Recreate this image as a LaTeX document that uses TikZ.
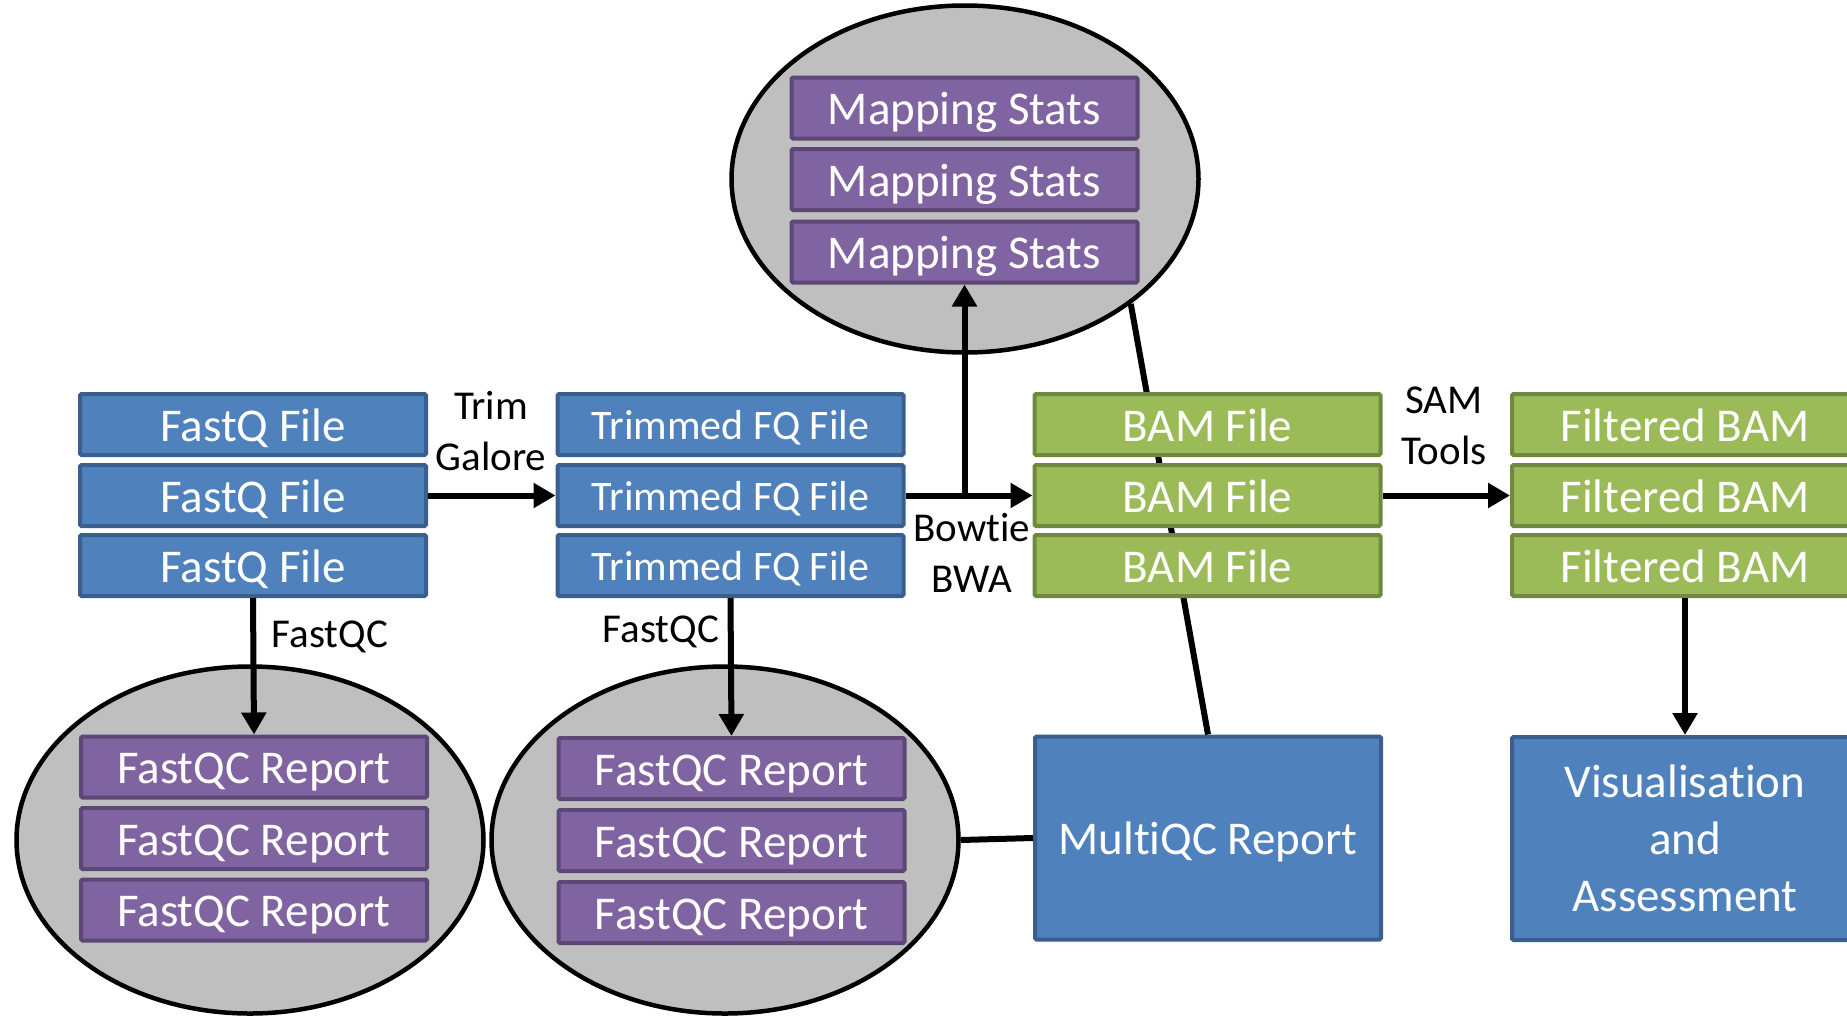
\documentclass[tikz,border=0pt]{standalone}
\usepackage{fontspec}
\setmainfont{Carlito}[Ligatures=NoCommon]
\usetikzlibrary{shapes.geometric,arrows.meta}
\definecolor{bfill}{HTML}{4F81BD}
\definecolor{bdraw}{HTML}{3A5F8E}
\definecolor{gfill}{HTML}{9BBB59}
\definecolor{gdraw}{HTML}{71893F}
\definecolor{pfill}{HTML}{8064A2}
\definecolor{pdraw}{HTML}{5C4776}
\definecolor{efill}{HTML}{BFBFBF}
\begin{document}
\begin{tikzpicture}[x=1pt,y=-1pt,
  basebox/.style={draw, line width=4pt, rounded corners=1.5pt, minimum width=346pt, minimum height=61pt,
    inner sep=0pt, text=white, font=\fontsize{47}{57}\selectfont},
  box/.style={basebox, text height=40pt, text depth=7pt},
  bluebox/.style={box, fill=bfill, draw=bdraw},
  greenbox/.style={box, fill=gfill, draw=gdraw},
  purplebox/.style={box, fill=pfill, draw=pdraw},
  trimbox/.style={bluebox, font=\fontsize{42}{50}\selectfont, text height=36pt, text depth=7pt},
  bigbox/.style={basebox, fill=bfill, draw=bdraw, minimum height=203pt, align=center},
  oval/.style={ellipse, draw=black, line width=4.5pt, fill=efill, minimum width=467pt, minimum height=347pt, inner sep=0pt},
  conn/.style={line width=6pt, draw=black},
  arr/.style={conn, -{Triangle[length=22pt,width=24pt]}},
  lbl/.style={align=center, font=\fontsize{41}{51}\selectfont, inner sep=0pt}
]
\useasboundingbox (0,0) rectangle (1847,1015);

% grey ellipses
\node[oval] (mapE) at (965,179) {};
\node[oval] (leftE) at (250,840) {};
\node[oval] (midE) at (725,840) {};

% big boxes
\node[bigbox, text height=40pt, text depth=7pt] (mqc) at (1208,838) {MultiQC Report};
\node[bigbox] (vis) at (1685,838.5) {Visualisation\\and\\Assessment};

% connectors lying behind boxes
\draw[conn] (mapE.-37) -- (mqc.north);
\draw[conn] (midE.east) -- (mqc.west);

% FastQ files
\node[bluebox] (f1) at (253,424.5) {FastQ File};
\node[bluebox] (f2) at (253,495.5) {FastQ File};
\node[bluebox] (f3) at (253,565.5) {FastQ File};

% Trimmed
\node[trimbox] (t1) at (730.5,424.5) {Trimmed FQ File};
\node[trimbox] (t2) at (730.5,495.5) {Trimmed FQ File};
\node[trimbox] (t3) at (730.5,565.5) {Trimmed FQ File};

% BAM
\node[greenbox] (b1) at (1207.5,424.5) {BAM File};
\node[greenbox] (b2) at (1207.5,495.5) {BAM File};
\node[greenbox] (b3) at (1207.5,565.5) {BAM File};

% Filtered BAM
\node[greenbox] (fb1) at (1685,424.5) {Filtered BAM};
\node[greenbox] (fb2) at (1685,495.5) {Filtered BAM};
\node[greenbox] (fb3) at (1685,565.5) {Filtered BAM};

% Mapping stats
\node[purplebox] (ms1) at (964.5,108) {Mapping Stats};
\node[purplebox] (ms2) at (964.5,179.5) {Mapping Stats};
\node[purplebox] (ms3) at (964.5,252) {Mapping Stats};

% FastQC reports (left)
\node[purplebox] (q1) at (254,767) {FastQC Report};
\node[purplebox] (q2) at (254,838.5) {FastQC Report};
\node[purplebox] (q3) at (254,910) {FastQC Report};

% FastQC reports (middle)
\node[purplebox] (r1) at (731.5,768.5) {FastQC Report};
\node[purplebox] (r2) at (731.5,840.5) {FastQC Report};
\node[purplebox] (r3) at (731.5,912.5) {FastQC Report};

% arrows
\draw[arr] (f2.east) -- (t2.west);
\draw[arr] (t2.east) -- (b2.west);
\coordinate (br) at (ms3.south |- t2.east);
\draw[arr] (br) -- (ms3.south);
\draw[arr] (b2.east) -- (fb2.west);
\draw[arr] (f3.south) -- (q1.north);
\draw[arr] (t3.south) -- (r1.north);
\draw[arr] (fb3.south) -- (vis.north);

% labels
\node[lbl] (lTrim) at (491,431) {Trim\\Galore};
\node[lbl] (lFq1) at (330,637) {FastQC};
\node[lbl] (lFq2) at (661,632) {FastQC};
\node[lbl] (lBow) at (972,553) {Bowtie\\BWA};
\node[lbl] (lSam) at (1444,426) {SAM\\Tools};
\end{tikzpicture}
\end{document}
